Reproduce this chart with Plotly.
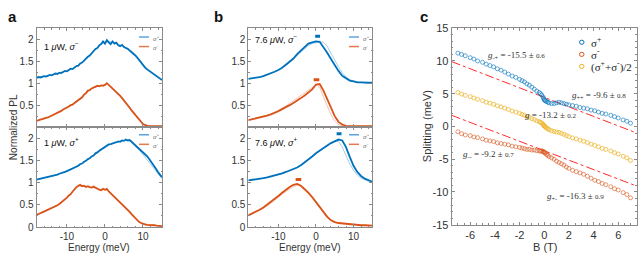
import plotly.graph_objects as go

W, H = 641, 260
def PX(x): return x / W
def PY(y): return 1 - y / H

BLUE = "#0072BD"; ORANGE = "#D95319"; YELLOW = "#EDB120"
LBLUE = "rgba(0,114,189,0.35)"; LORANGE = "rgba(217,83,25,0.35)"
RED = "#FF2A2A"

# ---------------- data: panel a (fine energy grid) ----------------
energy_fine = [-18.0, -17.5, -17.0, -16.5, -16.0, -15.5, -15.0, -14.5, -14.0, -13.5,
               -13.0, -12.5, -12.0, -11.5, -11.0, -10.5, -10.0, -9.5, -9.0, -8.5,
               -8.0, -7.5, -7.0, -6.5, -6.0, -5.5, -5.0, -4.5, -4.0, -3.5,
               -3.0, -2.5, -2.0, -1.5, -1.0, -0.5, 0.0, 0.5, 1.0, 1.5,
               2.0, 2.5, 3.0, 3.5, 4.0, 4.5, 5.0, 5.5, 6.0, 6.5,
               7.0, 7.5, 8.0, 8.5, 9.0, 9.5, 10.0, 10.5, 11.0, 11.5,
               12.0, 12.5, 13.0, 13.5, 14.0, 14.5, 15.0]

a_top_sp = [1.12, 1.14, 1.13, 1.15, 1.16, 1.15, 1.17, 1.19, 1.18, 1.20,
            1.22, 1.21, 1.24, 1.23, 1.26, 1.28, 1.27, 1.31, 1.33, 1.32,
            1.36, 1.39, 1.40, 1.45, 1.47, 1.52, 1.55, 1.60, 1.63, 1.68,
            1.72, 1.78, 1.80, 1.86, 1.89, 1.95, 1.90, 1.98, 1.93, 1.89,
            1.95, 1.90, 1.92, 1.86, 1.84, 1.87, 1.82, 1.80, 1.78, 1.74,
            1.71, 1.66, 1.63, 1.58, 1.52, 1.47, 1.41, 1.36, 1.32, 1.29,
            1.26, 1.24, 1.20, 1.17, 1.13, 1.10, 1.07]
a_top_sm = [0.14, 0.16, 0.17, 0.18, 0.20, 0.21, 0.22, 0.24, 0.26, 0.28,
            0.30, 0.33, 0.35, 0.37, 0.40, 0.42, 0.44, 0.47, 0.50, 0.51,
            0.55, 0.58, 0.60, 0.65, 0.68, 0.74, 0.77, 0.83, 0.84, 0.88,
            0.90, 0.92, 0.94, 0.93, 0.95, 0.94, 0.96, 1.00, 0.96, 0.92,
            0.88, 0.85, 0.80, 0.76, 0.71, 0.66, 0.61, 0.56, 0.50, 0.44,
            0.38, 0.33, 0.27, 0.21, 0.16, 0.11, 0.07, 0.05, 0.03, 0.02,
            0.02, 0.02, 0.02, 0.02, 0.02, 0.02, 0.02]
a_bot_sp = [1.07, 1.08, 1.09, 1.09, 1.10, 1.11, 1.12, 1.13, 1.14, 1.15,
            1.17, 1.18, 1.20, 1.21, 1.23, 1.24, 1.26, 1.28, 1.30, 1.32,
            1.34, 1.37, 1.38, 1.42, 1.43, 1.47, 1.49, 1.53, 1.55, 1.59,
            1.61, 1.66, 1.68, 1.72, 1.75, 1.77, 1.81, 1.82, 1.86, 1.87,
            1.88, 1.90, 1.91, 1.93, 1.92, 1.95, 1.94, 1.97, 1.95, 1.96,
            1.92, 1.89, 1.86, 1.82, 1.78, 1.74, 1.70, 1.65, 1.60, 1.55,
            1.49, 1.44, 1.37, 1.30, 1.23, 1.17, 1.12]
a_bot_sm = [0.27, 0.30, 0.31, 0.33, 0.35, 0.36, 0.38, 0.40, 0.42, 0.44,
            0.46, 0.49, 0.52, 0.55, 0.58, 0.62, 0.66, 0.71, 0.74, 0.80,
            0.86, 0.90, 0.93, 0.95, 0.92, 0.93, 0.90, 0.92, 0.90, 0.89,
            0.91, 0.88, 0.87, 0.84, 0.83, 0.86, 0.84, 0.86, 0.80, 0.76,
            0.72, 0.67, 0.63, 0.59, 0.56, 0.52, 0.48, 0.43, 0.39, 0.34,
            0.29, 0.24, 0.19, 0.15, 0.11, 0.09, 0.07, 0.06, 0.05, 0.05,
            0.04, 0.04, 0.04, 0.03, 0.03, 0.03, 0.02]

# ---------------- coarse energy grid (repeat measurements, panel b) ----------------
energy_coarse = [-18, -17, -16, -15, -14, -13, -12, -11, -10, -9,
                 -8, -7, -6, -5, -4, -3, -2, -1, 0, 1,
                 2, 3, 4, 5, 6, 7, 8, 9, 10, 11,
                 12, 13, 14, 15]

a_top_sp_2 = [1.13, 1.14, 1.15, 1.17, 1.18, 1.21, 1.23, 1.26, 1.28, 1.32,
              1.36, 1.41, 1.47, 1.55, 1.63, 1.72, 1.81, 1.89, 1.93, 1.95,
              1.93, 1.91, 1.87, 1.84, 1.80, 1.74, 1.64, 1.53, 1.42, 1.33,
              1.27, 1.21, 1.14, 1.08]
a_top_sm_2 = [0.15, 0.17, 0.19, 0.22, 0.26, 0.30, 0.35, 0.40, 0.45, 0.50,
              0.55, 0.61, 0.69, 0.78, 0.85, 0.90, 0.93, 0.95, 0.97, 0.97,
              0.89, 0.81, 0.72, 0.62, 0.51, 0.39, 0.27, 0.16, 0.07, 0.03,
              0.02, 0.02, 0.02, 0.02]
a_bot_sp_2 = [1.07, 1.09, 1.10, 1.12, 1.14, 1.17, 1.20, 1.23, 1.26, 1.30,
              1.34, 1.38, 1.43, 1.49, 1.55, 1.62, 1.69, 1.75, 1.80, 1.85,
              1.88, 1.91, 1.93, 1.95, 1.96, 1.92, 1.84, 1.74, 1.63, 1.52,
              1.41, 1.30, 1.18, 1.09]
a_bot_sm_2 = [0.28, 0.31, 0.35, 0.38, 0.42, 0.46, 0.52, 0.58, 0.66, 0.75,
              0.85, 0.92, 0.92, 0.91, 0.90, 0.89, 0.87, 0.84, 0.85, 0.80,
              0.71, 0.62, 0.54, 0.46, 0.37, 0.28, 0.19, 0.12, 0.08, 0.06,
              0.05, 0.04, 0.03, 0.03]

b_top_sp = [1.10, 1.11, 1.12, 1.14, 1.16, 1.19, 1.22, 1.26, 1.30, 1.35,
            1.42, 1.49, 1.56, 1.66, 1.74, 1.84, 1.90, 1.93, 1.95, 1.94,
            1.82, 1.69, 1.55, 1.41, 1.28, 1.17, 1.11, 1.06, 1.04, 1.02,
            1.02, 1.01, 1.01, 1.01]
b_top_sp_2 = [1.10, 1.11, 1.12, 1.14, 1.16, 1.19, 1.22, 1.26, 1.30, 1.35,
              1.41, 1.47, 1.55, 1.63, 1.72, 1.80, 1.86, 1.90, 1.92, 1.94,
              1.93, 1.84, 1.68, 1.52, 1.37, 1.24, 1.14, 1.08, 1.05, 1.03,
              1.02, 1.01, 1.01, 1.01]
b_top_sm = [0.16, 0.18, 0.19, 0.21, 0.23, 0.26, 0.29, 0.32, 0.36, 0.41,
            0.45, 0.50, 0.55, 0.60, 0.66, 0.72, 0.78, 0.86, 0.97, 0.98,
            0.83, 0.64, 0.42, 0.25, 0.12, 0.06, 0.03, 0.02, 0.02, 0.02,
            0.02, 0.02, 0.02, 0.02]
b_top_sm_2 = [0.16, 0.18, 0.20, 0.22, 0.24, 0.27, 0.30, 0.34, 0.38, 0.43,
              0.48, 0.54, 0.60, 0.66, 0.72, 0.79, 0.86, 0.92, 0.96, 0.90,
              0.70, 0.48, 0.28, 0.14, 0.06, 0.03, 0.02, 0.02, 0.02, 0.02,
              0.02, 0.02, 0.02, 0.02]
b_bot_sp = [1.05, 1.06, 1.07, 1.08, 1.10, 1.12, 1.14, 1.16, 1.19, 1.21,
            1.24, 1.27, 1.30, 1.34, 1.39, 1.45, 1.51, 1.59, 1.66, 1.72,
            1.78, 1.84, 1.89, 1.93, 1.97, 1.95, 1.80, 1.58, 1.38, 1.24,
            1.15, 1.09, 1.05, 1.02]
b_bot_sp_2 = [1.05, 1.06, 1.07, 1.08, 1.09, 1.11, 1.13, 1.15, 1.18, 1.20,
              1.23, 1.26, 1.30, 1.34, 1.39, 1.45, 1.52, 1.60, 1.67, 1.73,
              1.79, 1.85, 1.90, 1.94, 1.93, 1.80, 1.60, 1.42, 1.28, 1.17,
              1.10, 1.06, 1.03, 1.02]
b_bot_sm = [0.26, 0.30, 0.34, 0.39, 0.44, 0.50, 0.56, 0.63, 0.70, 0.77,
            0.84, 0.90, 0.95, 0.97, 0.93, 0.86, 0.77, 0.67, 0.56, 0.45,
            0.34, 0.23, 0.15, 0.11, 0.09, 0.08, 0.07, 0.06, 0.05, 0.05,
            0.04, 0.04, 0.03, 0.03]
b_bot_sm_2 = [0.25, 0.29, 0.33, 0.37, 0.42, 0.47, 0.53, 0.60, 0.67, 0.74,
              0.80, 0.86, 0.91, 0.94, 0.93, 0.88, 0.80, 0.70, 0.59, 0.47,
              0.36, 0.25, 0.16, 0.11, 0.09, 0.08, 0.07, 0.06, 0.05, 0.05,
              0.04, 0.04, 0.03, 0.03]

# peak-position bars in panel b: [sigma+, sigma-]
b_top_peak_E = [0.45, 0.15]
b_top_peak_halfw = [0.65, 0.75]
b_top_peak_y = [2.07, 1.08]
b_bot_peak_E = [6.15, -4.65]
b_bot_peak_halfw = [0.65, 0.75]
b_bot_peak_y = [2.10, 1.07]

# ---------------- data: panel c ----------------
field_B = [-7.0, -6.7, -6.4, -6.0, -5.7, -5.4, -5.0, -4.7, -4.4, -4.1,
           -3.8, -3.5, -3.2, -2.9, -2.6, -2.3, -2.0, -1.8, -1.6, -1.4,
           -1.2, -1.0, -0.8, -0.6, -0.4, -0.3, -0.2, -0.1, -0.05, 0.0,
           0.05, 0.1, 0.2, 0.3, 0.4, 0.6, 0.8, 1.0, 1.2, 1.4,
           1.6, 1.8, 2.0, 2.3, 2.6, 2.9, 3.2, 3.5, 3.8, 4.1,
           4.4, 4.7, 5.0, 5.4, 5.7, 6.0, 6.4, 6.7, 7.0]
split_sp = [11.2, 11.0, 10.8, 10.5, 10.3, 10.0, 9.8, 9.5, 9.3, 9.1,
            8.8, 8.6, 8.3, 8.0, 7.7, 7.5, 7.2, 7.0, 6.8, 6.5,
            6.3, 6.0, 5.7, 5.4, 5.2, 5.0, 4.8, 4.5, 4.3, 4.1,
            4.0, 3.9, 3.8, 3.7, 3.6, 3.5, 3.5, 3.6, 3.7, 3.6,
            3.5, 3.4, 3.3, 3.2, 3.1, 2.9, 2.8, 2.7, 2.5, 2.4,
            2.2, 2.0, 1.9, 1.7, 1.5, 1.3, 1.0, 0.8, 0.5]
split_sm = [-0.8, -1.1, -1.3, -1.4, -1.6, -1.7, -1.9, -2.1, -2.2, -2.3,
            -2.5, -2.6, -2.7, -2.8, -3.0, -3.1, -3.2, -3.3, -3.4, -3.5,
            -3.5, -3.6, -3.6, -3.7, -3.7, -3.8, -3.7, -3.8, -3.9, -3.9,
            -4.0, -4.1, -4.3, -4.4, -4.6, -4.8, -5.0, -5.3, -5.5, -5.7,
            -5.9, -6.2, -6.4, -6.7, -6.9, -7.1, -7.3, -7.6, -7.9, -8.2,
            -8.4, -8.7, -8.9, -9.2, -9.5, -9.7, -10.1, -10.4, -10.9]
split_avg = [(p + m) / 2 for p, m in zip(split_sp, split_sm)]

fit_B = [-7.5, 7.5]
fit_upper = [9.9, -1.0]
fit_lower = [1.7, -9.1]

xticks_e = [-10, 0, 10]
xticks_e_text = ["-10", "0", "10"]
yticks_top = [0.5, 1, 1.5, 2]
yticks_top_text = ["0.5", "1", "1.5", "2"]
yticks_bot = [0, 0.5, 1, 1.5, 2]
yticks_bot_text = ["0", "0.5", "1", "1.5", "2"]
xticks_c = [-6, -4, -2, 0, 2, 4, 6]
xticks_c_text = ["-6", "-4", "-2", "0", "2", "4", "6"]
yticks_c = [-15, -10, -5, 0, 5, 10, 15]
yticks_c_text = ["-15", "-10", "-5", "0", "5", "10", "15"]

# ---------------- figure ----------------
fig = go.Figure()

def line(x, y, ax, color, width):
    fig.add_trace(go.Scatter(x=x, y=y, mode="lines", xaxis="x" + ax, yaxis="y" + ax,
                             line=dict(color=color, width=width), hoverinfo="skip"))

# panel a
line(energy_coarse, a_top_sp_2, "", LBLUE, 1)
line(energy_coarse, a_top_sm_2, "", LORANGE, 1)
line(energy_fine, a_top_sp, "", BLUE, 1.8)
line(energy_fine, a_top_sm, "", ORANGE, 1.8)
line(energy_coarse, a_bot_sp_2, "2", LBLUE, 1)
line(energy_coarse, a_bot_sm_2, "2", LORANGE, 1)
line(energy_fine, a_bot_sp, "2", BLUE, 1.8)
line(energy_fine, a_bot_sm, "2", ORANGE, 1.8)
# panel b
line(energy_coarse, b_top_sp_2, "3", LBLUE, 1)
line(energy_coarse, b_top_sm_2, "3", LORANGE, 1)
line(energy_coarse, b_top_sp, "3", BLUE, 1.8)
line(energy_coarse, b_top_sm, "3", ORANGE, 1.8)
line(energy_coarse, b_bot_sp_2, "4", LBLUE, 1)
line(energy_coarse, b_bot_sm_2, "4", LORANGE, 1)
line(energy_coarse, b_bot_sp, "4", BLUE, 1.8)
line(energy_coarse, b_bot_sm, "4", ORANGE, 1.8)

for E, hw, yv, col in zip(b_top_peak_E, b_top_peak_halfw, b_top_peak_y, [BLUE, ORANGE]):
    line([E - hw, E + hw], [yv, yv], "3", col, 3)
for E, hw, yv, col in zip(b_bot_peak_E, b_bot_peak_halfw, b_bot_peak_y, [BLUE, ORANGE]):
    line([E - hw, E + hw], [yv, yv], "4", col, 3)

# panel c
for yv in (fit_upper, fit_lower):
    fig.add_trace(go.Scatter(x=fit_B, y=yv, mode="lines", xaxis="x5", yaxis="y5",
                             line=dict(color=RED, width=1, dash="dashdot"), hoverinfo="skip"))
for yv, col in ((split_sp, "rgba(0,114,189,0.6)"), (split_sm, "rgba(217,83,25,0.6)"),
                (split_avg, "rgba(237,177,32,0.7)")):
    fig.add_trace(go.Scatter(x=field_B, y=yv, mode="markers", xaxis="x5", yaxis="y5",
                             marker=dict(symbol="circle-open", size=4, color=col,
                                         line=dict(width=1)), hoverinfo="skip"))

AX = "#8a8a8a"
def axis(domain, rng, tv, tt, anchor, show=True, fsize=10, minor_dt=None):
    d = dict(domain=domain, range=rng, anchor=anchor, showline=True, linecolor=AX, linewidth=1,
             mirror="allticks", ticks="inside", ticklen=3, tickcolor=AX, showgrid=False,
             zeroline=False, tickvals=tv, ticktext=tt, showticklabels=show,
             tickfont=dict(family="Liberation Sans, Arial", size=fsize, color="#333"))
    if minor_dt:
        d["minor"] = dict(ticks="inside", ticklen=1.5, tickcolor=AX, dtick=minor_dt)
    return d

xa = [PX(36.5), PX(162)]
xb = [PX(248.3), PX(372.3)]
xc = [PX(451.7), PX(636.7)]
ytop = [PY(127), PY(23.3)]
ybot = [PY(231.7), PY(127)]
yc = [PY(229.3), PY(23.3)]
erng = [-18, 15]
prng = [0, 2.25]

fig.update_layout(
    width=W, height=H, margin=dict(l=0, r=0, t=0, b=0),
    paper_bgcolor="white", plot_bgcolor="white", showlegend=False,
    xaxis=axis(xa, erng, xticks_e, xticks_e_text, "y", False, minor_dt=2),
    yaxis=axis(ytop, prng, yticks_top, yticks_top_text, "x", minor_dt=0.25),
    xaxis2=axis(xa, erng, xticks_e, xticks_e_text, "y2", True, minor_dt=2),
    yaxis2=axis(ybot, prng, yticks_bot, yticks_bot_text, "x2", minor_dt=0.25),
    xaxis3=axis(xb, erng, xticks_e, xticks_e_text, "y3", False, minor_dt=2),
    yaxis3=axis(ytop, prng, yticks_top, yticks_top_text, "x3", minor_dt=0.25),
    xaxis4=axis(xb, erng, xticks_e, xticks_e_text, "y4", True, minor_dt=2),
    yaxis4=axis(ybot, prng, yticks_bot, yticks_bot_text, "x4", minor_dt=0.25),
    xaxis5=axis(xc, [-7.5, 7.5], xticks_c, xticks_c_text, "y5", True, 11, minor_dt=0.5),
    yaxis5=axis(yc, [-15, 15], yticks_c, yticks_c_text, "x5", True, 11, minor_dt=1),
)

SANS = "Liberation Sans, Arial"
SERIF = "Liberation Serif, Times New Roman"
ann = []
def A(x, y, text, size=10, fam=SANS, color="#333", xanchor="center", angle=0):
    ann.append(dict(x=PX(x), y=PY(y), xref="paper", yref="paper", text=text, showarrow=False,
                    xanchor=xanchor, yanchor="middle", textangle=angle,
                    font=dict(family=fam, size=size, color=color)))

A(12, 11, "<b>a</b>", 15, color="#111")
A(218, 11, "<b>b</b>", 15, color="#111")
A(424, 11, "<b>c</b>", 15, color="#111")
A(13, 127, "Normalized PL", 10, angle=-90)
A(99, 253, "Energy (meV)", 10)
A(310, 253, "Energy (meV)", 10)
A(427, 126, "Splitting (meV)", 11, angle=-90)
A(545, 252.5, "B (T)", 11)

A(42, 42, "1 <i>μ</i>W, <i>σ</i><sup>−</sup>", 9, color="#111", xanchor="left")
A(42, 143, "1 <i>μ</i>W, <i>σ</i><sup>+</sup>", 9, color="#111", xanchor="left")
A(253, 35, "7.6 <i>μ</i>W, <i>σ</i><sup>−</sup>", 9, color="#111", xanchor="left")
A(253, 143, "7.6 <i>μ</i>W, <i>σ</i><sup>+</sup>", 9, color="#111", xanchor="left")

shapes = []
for (x0, x1) in ((139, 149), (349, 359)):
    for (yb, yo) in ((32.5, 42.5), (135, 145)):
        shapes.append(dict(type="line", xref="paper", yref="paper", x0=PX(x0), x1=PX(x1),
                           y0=PY(yb), y1=PY(yb), line=dict(color="#5fa3dc", width=1.5)))
        shapes.append(dict(type="line", xref="paper", yref="paper", x0=PX(x0), x1=PX(x1),
                           y0=PY(yo), y1=PY(yo), line=dict(color="#e8774a", width=1.5)))
        A(x1 + 2, yb + 1, "<i>σ</i><sup>+</sup>", 6, color="#666", xanchor="left")
        A(x1 + 2, yo + 1, "<i>σ</i><sup>-</sup>", 6, color="#666", xanchor="left")

# panel c legend
for yy, col, txt in ((38, BLUE, "σ<sup>+</sup>"), (50.7, ORANGE, "σ<sup>-</sup>"),
                     (63.3, YELLOW, "(σ<sup>+</sup>+σ<sup>-</sup>)/2")):
    shapes.append(dict(type="circle", xref="paper", yref="paper",
                       x0=PX(579.5), x1=PX(584), y0=PY(yy - 2.2), y1=PY(yy + 2.2),
                       line=dict(color=col, width=1)))
    A(589, yy, txt, 11, fam=SERIF, color="#222", xanchor="left")

# g-factor annotations
A(516, 52, "<i>g</i><sub>-+</sub> = -15.5 ± <span style='font-size:7px'>0.6</span>", 9, fam=SERIF)
A(599, 94, "<i>g</i><sub>++</sub> = -9.6 ± <span style='font-size:7px'>0.8</span>", 9, fam=SERIF)
A(551, 114, "<i>g</i> = -13.2 ± <span style='font-size:7px'>0.2</span>", 9, fam=SERIF)
A(488, 156, "<i>g</i><sub>--</sub> = -9.2 ± <span style='font-size:7px'>0.7</span>", 9, fam=SERIF)
A(575, 200, "<i>g</i><sub>+-</sub> = -16.3 ± <span style='font-size:7px'>0.9</span>", 9, fam=SERIF)

fig.update_layout(annotations=ann, shapes=shapes)
fig.write_html("out.html", config={"displayModeBar": False},
               post_script="document.body.style.margin='0';document.body.style.overflow='hidden';")
